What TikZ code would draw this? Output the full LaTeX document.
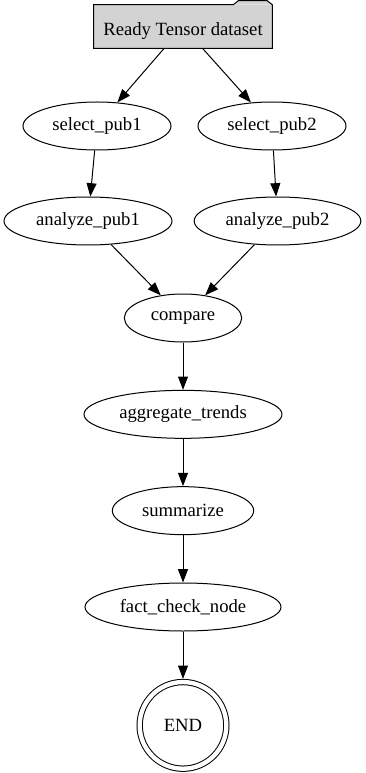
\documentclass[tikz,border=0pt]{standalone}
\usepackage{tikz}
\usetikzlibrary{arrows.meta,positioning,shapes.geometric}
\usepackage{xcolor}
\usepackage{fontspec}
\setmainfont{Liberation Serif}
\definecolor{boxgray}{RGB}{211,211,211}

\begin{document}
\begin{tikzpicture}[
    x=0.75pt, y=-0.75pt,
    node distance=35.5pt,
    every node/.style={font=\fontsize{14pt}{16pt}\selectfont},
    folder/.style={rectangle,fill=boxgray,inner sep=0pt,minimum width=133.5pt,
                   minimum height=32.25pt,text height=16pt,text depth=3pt},
    state/.style={ellipse,draw,line width=0.75pt,inner sep=0pt,minimum height=36pt},
    final/.style={circle,draw,double,double distance=3.25pt,line width=0.75pt,
                  inner sep=0pt,minimum size=65pt,outer sep=2.4pt},
    arrow/.style={-{Triangle[length=10pt,width=7.5pt]},line width=0.75pt}
]
    \useasboundingbox (0,0) rectangle (366,773);
    \node[folder] (data) at (183,26.5) {Ready Tensor dataset};
    \fill[boxgray] (data.north east) -- ++(-5,-4) -- ++(-29,0) -- ++(-5,4) -- cycle;
    \draw[line width=0.75pt] (data.north east) -- ++(-5,-4) -- ++(-29,0) -- ++(-5,4)
        -- (data.north west) -- (data.south west) -- (data.south east) -- cycle;
    \node[state,minimum width=111pt] (sel1) at (97,126) {select\_pub1};
    \node[state,minimum width=111pt] (sel2) at (272,126) {select\_pub2};
    \node[state,minimum width=126pt] (ana1) at (88,221) {analyze\_pub1};
    \node[state,minimum width=125pt] (ana2) at (277.5,221) {analyze\_pub2};
    \node[state,minimum width=88pt] (cmp) at (183,318) {compare};
    \node[state,minimum width=148.5pt,below=of cmp] (agg) {aggregate\_trends};
    \node[state,minimum width=106pt,below=of agg] (summ) {summarize};
    \node[state,minimum width=147pt,below=of summ] (fact) {fact\_check\_node};
    \node[final,below=of fact] (end) {END};
    \draw[arrow] (data)--(sel1);
    \draw[arrow] (data)--(sel2);
    \draw[arrow] (sel1)--(ana1);
    \draw[arrow] (sel2)--(ana2);
    \draw[arrow] (ana1)--(cmp);
    \draw[arrow] (ana2)--(cmp);
    \draw[arrow] (cmp)--(agg);
    \draw[arrow] (agg)--(summ);
    \draw[arrow] (summ)--(fact);
    \draw[arrow] (fact)--(end);
\end{tikzpicture}
\end{document}
